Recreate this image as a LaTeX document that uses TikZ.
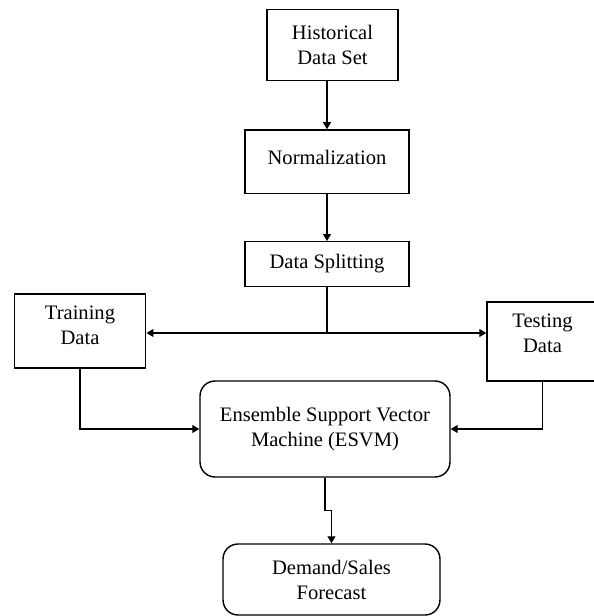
\documentclass[tikz,border=0pt]{standalone}
\usepackage{fontspec}
\setmainfont{Liberation Serif}
\usetikzlibrary{arrows.meta, positioning, calc}
\tikzset{
  every picture/.style={line width=0.8pt},
  box/.style={draw, align=center, inner sep=2pt, font=\fontsize{11.7pt}{14.2pt}\selectfont},
  roundbox/.style={box, rounded corners=0.3cm},
  arrow/.style={-{Triangle[length=4pt, width=4.5pt]}},
}

\begin{document}
\begin{tikzpicture}[x=0.02cm, y=-0.02cm]
  \clip (0,0) rectangle (594,616);
  \node[box, minimum width=2.62cm, minimum height=1.43cm] (hist) at (332.5,45) {Historical\\Data Set};
  \node[box, minimum width=3.28cm, minimum height=1.27cm, text depth=0.16cm] (norm) at (327,161.7) {Normalization};
  \node[box, minimum width=3.28cm, minimum height=0.89cm] (split) at (327,264) {Data Splitting};
  \node[box, minimum width=2.63cm, minimum height=1.48cm, text depth=0.24cm] (train) at (80,331) {Training\\Data};
  \node[box, minimum width=2.22cm, minimum height=1.58cm, text depth=0.32cm] (test) at (542.5,341.5) {Testing\\Data};
  \node[roundbox, minimum width=5cm, minimum height=1.92cm] (esvm) at (325,429) {Ensemble Support Vector\\Machine (ESVM)};
  \node[roundbox, minimum width=4.34cm, minimum height=1.42cm] (fcast) at (331.5,579.5) {Demand/Sales\\Forecast};
  \coordinate (branch) at (split.south |- 0,333);
  % flow
  \draw[arrow] (hist.south -| norm.north) -- (norm.north);
  \draw[arrow] (norm) -- (split);
  \draw (split.south) -- (branch);
  \draw[arrow] (branch) -- (branch -| train.east);
  \draw[arrow] (branch) -- (branch -| test.west);
  \draw[arrow] (train.south) |- (esvm.west);
  \draw[arrow] (test.south) |- (esvm.east);
  \draw[arrow] (esvm.south) -- ++(0,33) -| (fcast.north);
\end{tikzpicture}
\end{document}
